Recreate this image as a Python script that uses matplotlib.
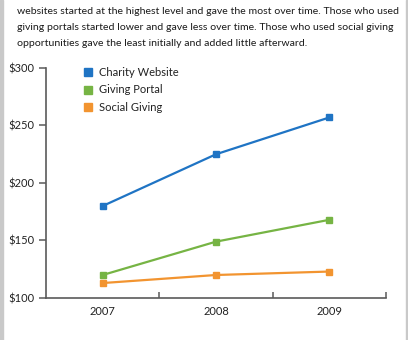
import matplotlib.pyplot as plt
from matplotlib.patches import Rectangle

# === Datos ===
years = ["2007", "2008", "2009"]
charity_website = [180, 225, 257]
giving_portal = [120, 149, 168]
social_giving = [113, 120, 123]
series_names = ["Charity Website", "Giving Portal", "Social Giving"]
colors = ["#1f74c4", "#76b444", "#f29430"]
yticks = [100, 150, 200, 250, 300]
ytick_labels = ["$100", "$150", "$200", "$250", "$300"]

intro = ("websites started at the highest level and gave the most over time. Those who used\n"
         "giving portals started lower and gave less over time. Those who used social giving\n"
         "opportunities gave the least initially and added little afterward.")

plt.rcParams['font.family'] = ['Lato', 'DejaVu Sans']
fs = 8

W, H = 408, 340
fig = plt.figure(figsize=(W / 100, H / 100), dpi=100)
fig.patch.set_facecolor("white")

# bordes grises
fig.patches.append(Rectangle((0, 0), 3 / W, 1, transform=fig.transFigure, color="#c9c9c9", zorder=0))
fig.patches.append(Rectangle((406 / W, 0), 2 / W, 1, transform=fig.transFigure, color="#c9c9c9", zorder=0))

fig.text(17 / W, 1 - 7 / H, intro, ha="left", va="top", fontsize=7.55,
         color="#1a1a1a", linespacing=1.98)

ax = fig.add_axes([46 / W, 1 - 298 / H, (386 - 46) / W, (298 - 68) / H])
x = list(range(len(years)))
for vals, name, c in zip([charity_website, giving_portal, social_giving], series_names, colors):
    ax.plot(x, vals, color=c, lw=1.6, marker="s", markersize=4.8, label=name,
            clip_on=False)

ax.set_xlim(-0.5, 2.5)
ax.set_ylim(100, 300)
ax.set_yticks(yticks)
ax.set_yticklabels(ytick_labels)
ax.set_xticks(x)
ax.set_xticklabels(years)
ax.set_xticks([0.5, 1.5, 2.5], minor=True)

for s in ["top", "right"]:
    ax.spines[s].set_visible(False)
for s in ["left", "bottom"]:
    ax.spines[s].set_color("#5a5a5a")
    ax.spines[s].set_linewidth(1.2)

ax.tick_params(axis="y", direction="out", length=5, width=1.1, color="#5a5a5a",
               labelsize=fs, labelcolor="#222222", pad=3.5)
ax.tick_params(axis="x", which="major", length=0, labelsize=fs, labelcolor="#222222", pad=6)
ax.tick_params(axis="x", which="minor", direction="in", length=4.5, width=1.1, color="#5a5a5a")

leg = ax.legend(loc="upper left", bbox_to_anchor=(0.085, 1.05), frameon=False,
                fontsize=fs, handlelength=0.6, handletextpad=0.7, labelspacing=0.62,
                markerscale=1.1)
for h in leg.legend_handles:
    h.set_linestyle("none")
for t in leg.get_texts():
    t.set_color("#222222")

fig.savefig("out.png", dpi=100)
